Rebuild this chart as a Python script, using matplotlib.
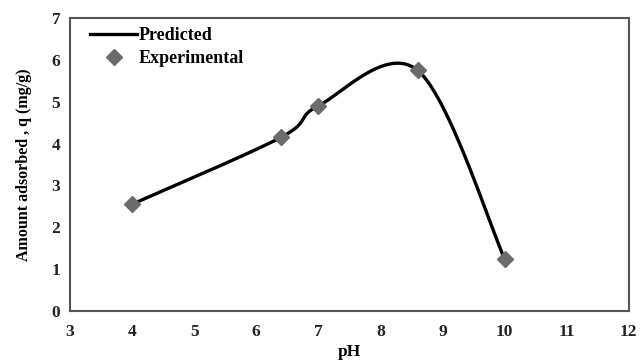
import numpy as np
import matplotlib
matplotlib.use("Agg")
import matplotlib.pyplot as plt

# Experimental points
ph = [4.0, 6.4, 7.0, 8.6, 10.0]
q_exp = [2.55, 4.15, 4.9, 5.75, 1.25]

x_ticks = [3, 4, 5, 6, 7, 8, 9, 10, 11, 12]
y_ticks = [0, 1, 2, 3, 4, 5, 6, 7]


def smooth_line(xs, ys, n=60):
    # Excel-style smoothed line: cubic Bezier segments, tangents from neighbours / 6
    pts = np.column_stack([xs, ys]).astype(float)
    out = []
    for i in range(len(pts) - 1):
        p0 = pts[max(i - 1, 0)]
        p1 = pts[i]
        p2 = pts[i + 1]
        p3 = pts[min(i + 2, len(pts) - 1)]
        c1 = p1 + (p2 - p0) / 6.0
        c2 = p2 - (p3 - p1) / 6.0
        t = np.linspace(0, 1, n)[:, None]
        seg = ((1 - t) ** 3) * p1 + 3 * ((1 - t) ** 2) * t * c1 \
            + 3 * (1 - t) * t ** 2 * c2 + t ** 3 * p2
        out.append(seg)
    curve = np.vstack(out)
    return curve[:, 0], curve[:, 1]


plt.rcParams['font.family'] = ['Liberation Serif', 'DejaVu Serif']
plt.rcParams['font.weight'] = 'bold'

fig = plt.figure(figsize=(6.41, 3.6), dpi=100)
ax = fig.add_axes([0.109, 0.136, 0.872, 0.814])

cx, cy = smooth_line(ph, q_exp)
ax.plot(cx, cy, color='black', lw=2.4, label='Predicted', zorder=2)
ax.plot(ph, q_exp, linestyle='none', marker='D', markersize=8,
        color='#6b6b6b', label='Experimental', zorder=3)

ax.set_xlim(3, 12)
ax.set_ylim(0, 7)
ax.set_xticks(x_ticks)
ax.set_yticks(y_ticks)
ax.tick_params(length=0, labelsize=12.5, colors='#222222')
ax.tick_params(axis='x', pad=9)
ax.tick_params(axis='y', pad=7)
for lab in ax.get_xticklabels() + ax.get_yticklabels():
    lab.set_fontweight('bold')

for s in ax.spines.values():
    s.set_color('#555555')
    s.set_linewidth(1.5)

ax.set_xlabel('pH', fontsize=12.5, fontweight='bold', labelpad=3)
ax.set_ylabel('Amount adsorbed , q (mg/g)', fontsize=11.5, fontweight='bold', labelpad=14)

ax.legend(loc='upper left', bbox_to_anchor=(0.03, 0.98), frameon=False,
          handlelength=2.6, handletextpad=0.1, borderaxespad=0.0, borderpad=0.2,
          labelspacing=0.3, prop={'weight': 'bold', 'size': 13})

fig.savefig("out.png", dpi=100)
plt.close(fig)
